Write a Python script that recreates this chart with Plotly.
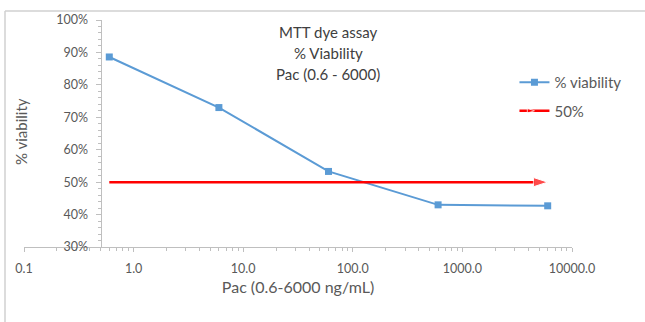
import math
import plotly.graph_objects as go

# ---- data ----
conc = [0.6, 6, 60, 600, 6000]
viability = [0.886, 0.73, 0.533, 0.43, 0.427]
ref_x = [0.6, 6000]
ref_y = [0.5, 0.5]
x_tickvals = [0.1, 1, 10, 100, 1000, 10000]
x_ticktext = ["0.1", "1.0", "10.0", "100.0", "1000.0", "10000.0"]
title_lines = ["MTT dye assay", "% Viability", "Pac (0.6 - 6000)"]
series_names = ["% viability", "50%"]
x_title = "Pac (0.6-6000 ng/mL)"
y_title = "% viability"
ycross = 0.5  # value of x where the vertical axis crosses

FONT = "Lato"
TXT = "#595959"
AX = "#bfbfbf"

W, H = 645, 322
L, R, T, B = 24, 73, 20, 75
xmin, xmax = -1, 4
PW, PH = W - L - R, H - T - B


def px_x(px):
    return (px - L) / PW


def px_y(py):
    return (H - B - py) / PH


fig = go.Figure()
fig.add_trace(go.Scatter(
    x=conc, y=viability, name=series_names[0], mode="lines+markers",
    line=dict(color="#5b9bd5", width=2),
    marker=dict(symbol="square", size=7, color="#5b9bd5"),
    legendgroup="a",
))
fig.add_trace(go.Scatter(
    x=ref_x, y=ref_y, name=series_names[1], mode="lines+markers",
    line=dict(color="#ff0000", width=2.5),
    marker=dict(symbol="arrow", angleref="previous", size=[0, 15], color="#ff0000"),
    legendgroup="b",
))

pos = (math.log10(ycross) - xmin) / (xmax - xmin)

fig.update_layout(
    width=W, height=H,
    margin=dict(l=L, r=R, t=T, b=B),
    paper_bgcolor="white", plot_bgcolor="white",
    font=dict(family=FONT, color=TXT, size=12),
    showlegend=True,
    legend=dict(x=0.895, y=px_y(66), xanchor="left", yanchor="top",
                font=dict(size=15, color=TXT, family=FONT),
                tracegroupgap=6, bgcolor="rgba(0,0,0,0)"),
    xaxis=dict(
        type="log", range=[xmin, xmax], showgrid=False, zeroline=False,
        showline=True, linecolor=AX, linewidth=1,
        tickvals=x_tickvals, ticktext=x_ticktext,
        ticks="outside", ticklen=4, tickcolor=AX,
        ticklabelstandoff=6,
        tickfont=dict(size=12.5, color=TXT),
        minor=dict(ticks="outside", ticklen=3, tickcolor=AX, dtick="D1", showgrid=False),
        title=dict(text=x_title, font=dict(size=16, color=TXT), standoff=6),
    ),
    yaxis=dict(
        range=[0.3, 1.0], dtick=0.1, tickformat=".0%",
        anchor="free", position=pos,
        showgrid=False, zeroline=False,
        showline=True, linecolor=AX, linewidth=1,
        ticks="outside", ticklen=5, tickcolor=AX,
        ticklabelstandoff=5,
        tickfont=dict(size=12.5, color=TXT),
        minor=dict(ticks="outside", ticklen=3, tickcolor=AX, dtick=0.02, showgrid=False),
    ),
)

# title lines
for i, line in enumerate(title_lines):
    fig.add_annotation(text=line, xref="paper", yref="paper",
                       x=px_x(328), y=px_y(32 + 21 * i),
                       xanchor="center", yanchor="middle", showarrow=False,
                       font=dict(size=15, color="#404040", family=FONT))

# y axis title
fig.add_annotation(text=y_title, xref="paper", yref="paper",
                   x=px_x(21), y=px_y(132),
                   xanchor="center", yanchor="middle", textangle=-90, showarrow=False,
                   font=dict(size=15, color=TXT, family=FONT))

# outer chart border (clipped)
fig.add_shape(type="line", xref="paper", yref="paper",
              x0=px_x(5), x1=1.3, y0=px_y(11), y1=px_y(11),
              line=dict(color="#d0d0d0", width=1.5))
fig.add_shape(type="line", xref="paper", yref="paper",
              x0=px_x(5), x1=px_x(5), y0=px_y(11), y1=-0.5,
              line=dict(color="#d0d0d0", width=1.5))

fig.write_html("out.html", config={"displayModeBar": False},
               post_script="document.body.style.margin='0';")
